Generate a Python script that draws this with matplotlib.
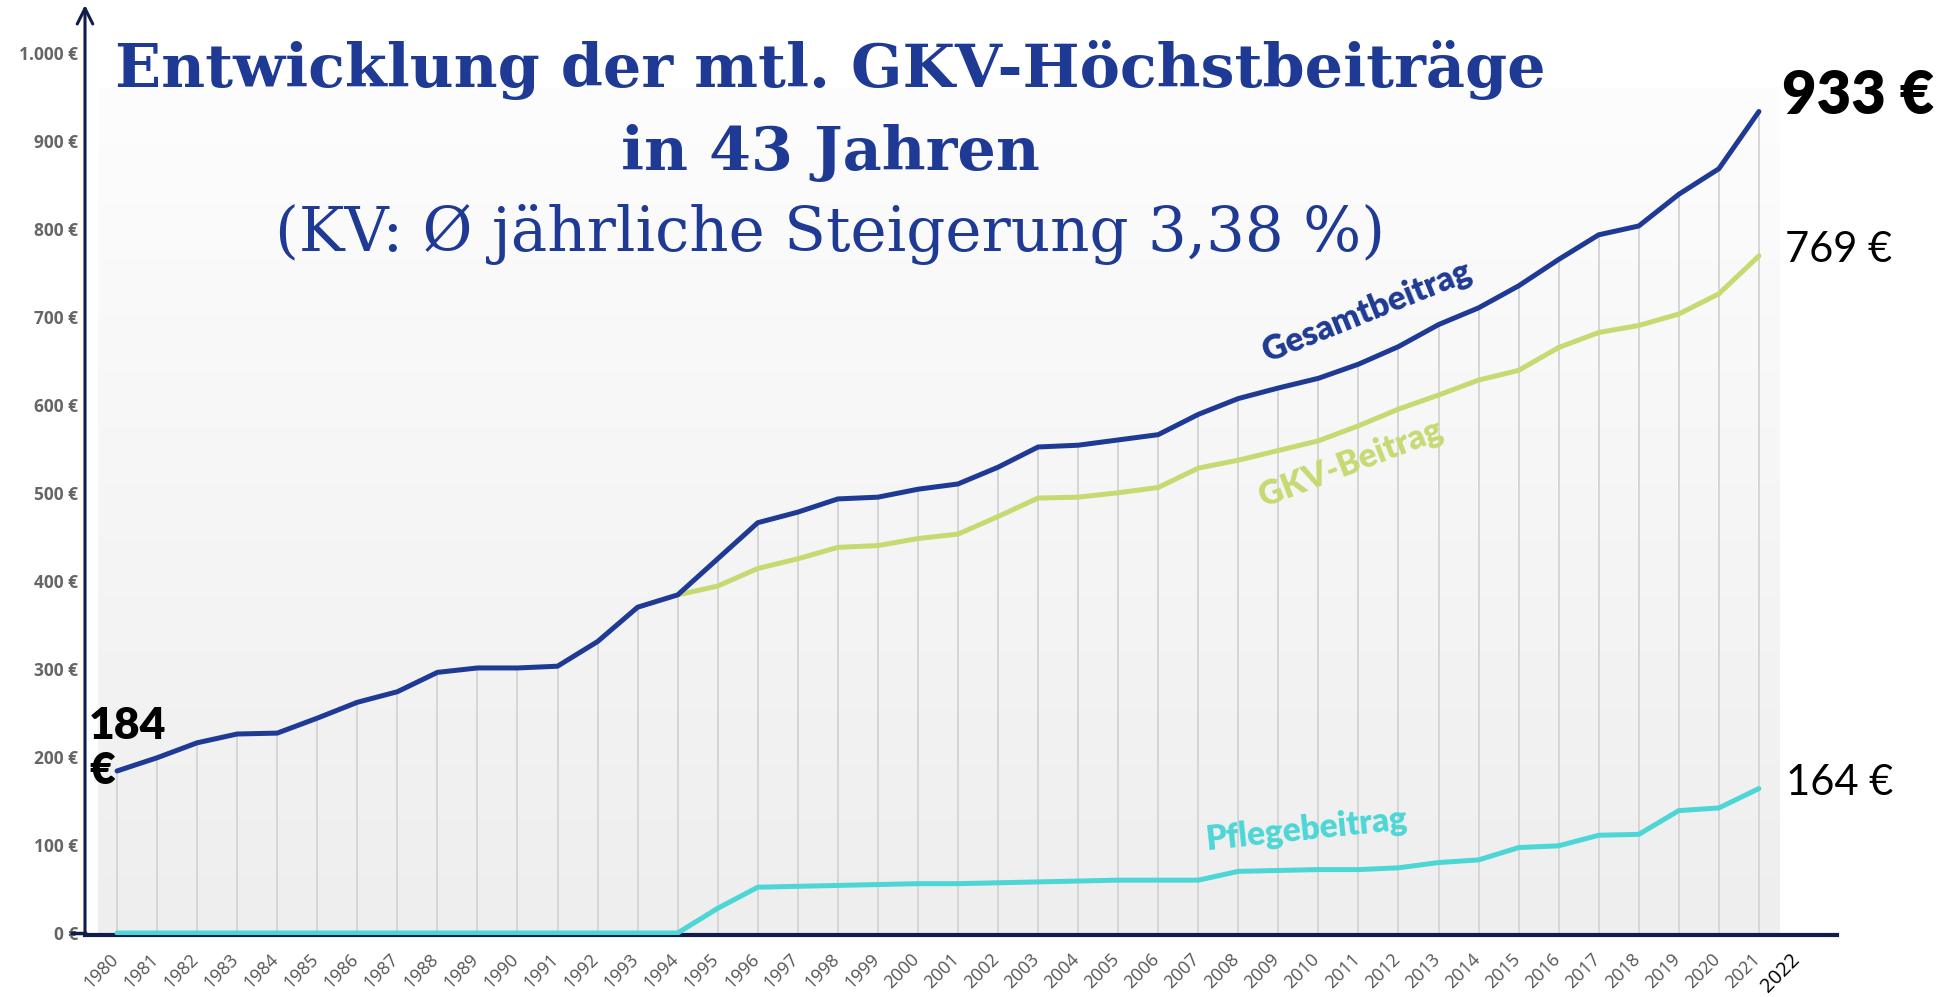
import numpy as np
import matplotlib.pyplot as plt
from matplotlib.colors import LinearSegmentedColormap
from matplotlib.transforms import ScaledTranslation

# Daten (monatliche Höchstbeiträge in €)
jahre = list(range(1980, 2023))
gesamt = [184, 199, 216, 226, 227, 244, 262, 274, 296, 301,
          301, 303, 331, 370, 384, 425, 466, 478, 493, 495,
          504, 510, 529, 552, 554, 560, 566, 589, 607, 619,
          630, 646, 666, 691, 710, 735, 765, 793, 803, 839,
          868, 933]
gkv_start = 1994
gkv = [384, 394, 414, 425, 438, 440, 448, 453, 473, 494,
       495, 500, 506, 528, 537, 548, 559, 576, 595, 611,
       628, 639, 665, 682, 690, 703, 726, 769]
pflege = [0] * 15 + [28, 52, 53, 54, 55, 56, 56, 57, 58, 59,
                     60, 60, 60, 70, 71, 72, 72, 74, 80, 83,
                     97, 99, 111, 112, 139, 142, 164]
y_ticks = list(range(0, 1001, 100))

BLAU = '#1e3a94'
GRUEN = '#c6da72'
TUERKIS = '#4dd6d6'
NAVY = '#101c4c'

fig = plt.figure(figsize=(19.51, 9.97), dpi=100)
fig.patch.set_facecolor('white')
ax = fig.add_axes([85/1951, 62/997, 1752/1951, 930/997])
ax.set_facecolor('white')

x_all = np.arange(len(gesamt))
x_gkv = np.arange(gkv_start - 1980, gkv_start - 1980 + len(gkv))

# Hintergrund mit Verlauf
cmap = LinearSegmentedColormap.from_list('bg', ['#eeeeee', '#fdfdfd'])
grad = np.linspace(0, 1, 256).reshape(-1, 1)
ax.imshow(grad, cmap=cmap, origin='lower', aspect='auto',
          extent=[-0.48, len(gesamt) - 0.48, 0, 960], zorder=0)

# senkrechte Linien bis zum Gesamtbeitrag
ax.vlines(x_all, 0, gesamt, color='#d6d6d6', linewidth=1.4, zorder=1)

ax.plot(x_all, pflege, color=TUERKIS, linewidth=3.6, zorder=3,
        solid_joinstyle='round', solid_capstyle='round')
ax.plot(x_gkv, gkv, color=GRUEN, linewidth=3.6, zorder=3,
        solid_joinstyle='round', solid_capstyle='round')
ax.plot(x_all, gesamt, color=BLAU, linewidth=3.6, zorder=4,
        solid_joinstyle='round', solid_capstyle='round')

ax.set_xlim(-0.8, 42.95)
ax.set_ylim(-2.3, 1054)

# Achsen
for s in ['top', 'right', 'left']:
    ax.spines[s].set_visible(False)
ax.spines['bottom'].set_color(NAVY)
ax.spines['bottom'].set_linewidth(3)
ax.spines['bottom'].set_zorder(2)
ax.annotate('', xy=(0, 1.0), xytext=(0, 0), xycoords='axes fraction',
            arrowprops=dict(arrowstyle='->', color=NAVY, lw=2.2,
                            mutation_scale=28, shrinkA=0, shrinkB=0))
ax.plot([-13/1752, 0], [0.0025, 0.0025], transform=ax.transAxes,
        color=NAVY, lw=2.5, clip_on=False)

ax.set_yticks(y_ticks)
ax.set_yticklabels([f'{v:,} €'.replace(',', '.') for v in y_ticks],
                   fontsize=12.5, fontweight='bold', color='#666666',
                   family='Open Sans')
ax.tick_params(axis='y', length=0, pad=5)

ax.set_xticks(range(len(jahre)))
ax.set_xticklabels([str(j) for j in jahre], rotation=45, ha='right',
                   va='top', fontsize=13, color='#555555', family='Open Sans')
ax.tick_params(axis='x', length=0, pad=11)
shift = ScaledTranslation(5/100, 0, fig.dpi_scale_trans)
for lab in ax.get_xticklabels():
    lab.set_transform(lab.get_transform() + shift)
last = ax.get_xticklabels()[-1]
last.set_color('black')
last.set_fontsize(14.5)

# Titel
fig.text(0.4254, 1 - 87/997, 'Entwicklung der mtl. GKV-Höchstbeiträge',
         ha='center', va='baseline', fontsize=43.5, fontweight='bold',
         color=BLAU, family='DejaVu Serif')
fig.text(0.4254, 1 - 170/997, 'in 43 Jahren', ha='center', va='baseline',
         fontsize=43.5, fontweight='bold', color=BLAU, family='DejaVu Serif')
fig.text(0.4254, 1 - 251/997, '(KV: Ø jährliche Steigerung 3,38 %)',
         ha='center', va='baseline', fontsize=44, color=BLAU,
         family='DejaVu Serif')

# Werte am Rand
ax.text(-0.7, 210, '184\n€', ha='left', va='center', fontsize=32,
        fontweight='heavy', family='Lato', linespacing=1.15, color='black')
ax.text(41.57, 950, '933 €', ha='left', va='center', fontsize=43,
        fontweight='heavy', family='Lato', color='black')
ax.text(41.65, 776, '769 €', ha='left', va='center', fontsize=30,
        family='Lato', color='black')
ax.text(41.67, 170, '164 €', ha='left', va='center', fontsize=30,
        family='Lato', color='black')

# Beschriftung der Linien
ax.text(31.2, 706, 'Gesamtbeitrag', rotation=22, ha='center', va='center',
        fontsize=24, fontweight='heavy', family='Lato', color=BLAU)
ax.text(30.8, 534, 'GKV-Beitrag', rotation=21, ha='center', va='center',
        fontsize=24, fontweight='heavy', family='Lato', color=GRUEN)
ax.text(29.7, 117, 'Pflegebeitrag', rotation=6, ha='center', va='center',
        fontsize=24, fontweight='heavy', family='Lato', color=TUERKIS)

fig.savefig('out.png', dpi=100, facecolor='white')
